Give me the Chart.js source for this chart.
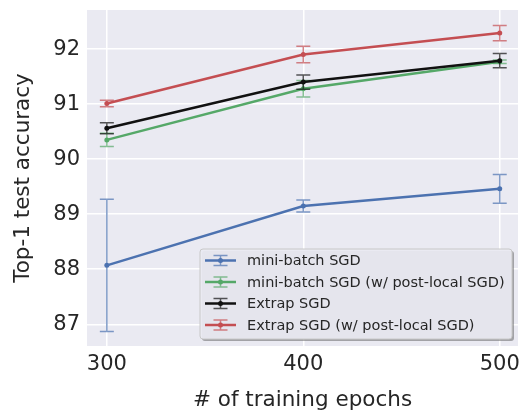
<!DOCTYPE html>
<html><head><meta charset="utf-8">
<script src="https://cdn.jsdelivr.net/npm/chart.js@4/dist/chart.umd.min.js"></script>
<style>html,body{margin:0;padding:0;background:#fff}</style>
</head><body>
<canvas id="c" width="522" height="413"></canvas>
<script>
const epochs=[300,400,500];
const xTicks=[300,400,500];
const yTicks=[87,88,89,90,91,92];
const names=['mini-batch SGD','mini-batch SGD (w/ post-local SGD)','Extrap SGD','Extrap SGD (w/ post-local SGD)'];
const colors=['#4C72B0','#55A868','#111111','#C44E52'];
const sgd=[88.07,89.15,89.46];
const sgdErr=[1.20,0.11,0.26];
const sgdPost=[90.35,91.28,91.77];
const sgdPostErr=[0.12,0.15,0.03];
const extrap=[90.56,91.40,91.79];
const extrapErr=[0.10,0.13,0.13];
const extrapPost=[91.01,91.90,92.29];
const extrapPostErr=[0.06,0.15,0.14];

const series=[sgd,sgdPost,extrap,extrapPost];
const errs=[sgdErr,sgdPostErr,extrapErr,extrapPostErr];
const FONT='DejaVu Sans';
const TXT='#262626';

function rgba(hex,a){
 const n=parseInt(hex.slice(1),16);
 return 'rgba('+(n>>16)+','+((n>>8)&255)+','+(n&255)+','+a+')';
}

const bgPlugin={
 id:'bg',
 beforeDraw(chart){
  const a=chart.chartArea,ctx=chart.ctx;
  ctx.save();
  ctx.fillStyle='#EAEAF2';
  ctx.fillRect(a.left,a.top,a.right-a.left,a.bottom-a.top);
  ctx.restore();
 }
};

// error bars, drawn with each dataset so layering follows plot order
const errPlugin={
 id:'errbars',
 afterDatasetDraw(chart,args){
  const i=args.index,ctx=chart.ctx;
  const xs=chart.scales.x,ys=chart.scales.y;
  ctx.save();
  ctx.strokeStyle=rgba(colors[i],0.7);
  ctx.lineWidth=1.5;
  series[i].forEach((v,j)=>{
   const x=xs.getPixelForValue(epochs[j]);
   const t=ys.getPixelForValue(v+errs[i][j]);
   const b=ys.getPixelForValue(v-errs[i][j]);
   ctx.beginPath();
   ctx.moveTo(x,t);ctx.lineTo(x,b);
   ctx.moveTo(x-7,t);ctx.lineTo(x+7,t);
   ctx.moveTo(x-7,b);ctx.lineTo(x+7,b);
   ctx.stroke();
  });
  ctx.restore();
 }
};

function roundRect(ctx,x,y,w,h,r){
 ctx.beginPath();
 ctx.moveTo(x+r,y);ctx.lineTo(x+w-r,y);ctx.quadraticCurveTo(x+w,y,x+w,y+r);
 ctx.lineTo(x+w,y+h-r);ctx.quadraticCurveTo(x+w,y+h,x+w-r,y+h);
 ctx.lineTo(x+r,y+h);ctx.quadraticCurveTo(x,y+h,x,y+h-r);
 ctx.lineTo(x,y+r);ctx.quadraticCurveTo(x,y,x+r,y);
 ctx.closePath();
}

const legendPlugin={
 id:'boxlegend',
 afterDraw(chart){
  const a=chart.chartArea,ctx=chart.ctx;
  const w=312,h=90;
  const L=a.right-6-w,T=a.bottom-7-h;
  ctx.save();
  roundRect(ctx,L+2,T+2,w,h,3);
  ctx.fillStyle='rgba(90,90,90,0.5)';
  ctx.fill();
  roundRect(ctx,L,T,w,h,3);
  ctx.fillStyle='rgba(234,234,242,0.93)';
  ctx.fill();
  ctx.strokeStyle='#c8c8c8';
  ctx.lineWidth=1;
  ctx.stroke();
  ctx.font='14.5px "'+FONT+'"';
  ctx.textBaseline='middle';
  names.forEach((n,i)=>{
   const y=T+11.5+i*21.5;
   const cx=L+20.5;
   ctx.strokeStyle=rgba(colors[i],0.7);
   ctx.lineWidth=1.5;
   ctx.beginPath();
   ctx.moveTo(cx,y-5);ctx.lineTo(cx,y+5);
   ctx.moveTo(cx-7,y-5);ctx.lineTo(cx+7,y-5);
   ctx.moveTo(cx-7,y+5);ctx.lineTo(cx+7,y+5);
   ctx.stroke();
   ctx.strokeStyle=colors[i];
   ctx.lineWidth=2.5;
   ctx.beginPath();ctx.moveTo(L+5,y);ctx.lineTo(L+36,y);ctx.stroke();
   ctx.fillStyle=colors[i];
   ctx.beginPath();ctx.arc(cx,y,2.5,0,Math.PI*2);ctx.fill();
   ctx.fillStyle=TXT;
   ctx.fillText(n,L+47,y+1);
  });
  ctx.restore();
 }
};

const order=[4,3,2,1];
const datasets=series.map((s,i)=>({
 label:names[i],
 data:s.map((v,j)=>({x:epochs[j],y:v})),
 borderColor:colors[i],
 backgroundColor:colors[i],
 borderWidth:2.5,
 pointRadius:2.5,
 pointBorderWidth:0,
 pointBackgroundColor:colors[i],
 tension:0,
 order:order[i]
}));

new Chart(document.getElementById('c'),{
 type:'line',
 data:{datasets:datasets},
 options:{
  responsive:false,
  animation:false,
  layout:{padding:{top:10,right:0,left:0,bottom:0}},
  plugins:{legend:{display:false},tooltip:{enabled:false}},
  scales:{
   x:{
    type:'linear',min:289.9,max:509.3,
    afterBuildTicks:s=>{s.ticks=xTicks.map(v=>({value:v}));},
    afterFit:s=>{s.height=67;s.paddingLeft=0;s.paddingRight=0;},
    grid:{color:'#ffffff',lineWidth:1.5,drawTicks:false},
    border:{display:false},
    ticks:{color:TXT,font:{family:FONT,size:21},padding:6,maxRotation:0},
    title:{display:true,text:'# of training epochs',color:TXT,font:{family:FONT,size:21.5},padding:{top:0,bottom:0}}
   },
   y:{
    min:86.605,max:92.71,
    afterBuildTicks:s=>{s.ticks=yTicks.map(v=>({value:v}));},
    afterFit:s=>{s.width=87;s.paddingTop=0;s.paddingBottom=0;},
    grid:{color:'#ffffff',lineWidth:1.5,drawTicks:false},
    border:{display:false},
    ticks:{color:TXT,font:{family:FONT,size:21},padding:7},
    title:{display:true,text:'Top-1 test accuracy',color:TXT,font:{family:FONT,size:21.5},padding:{top:10.5,bottom:0}}
   }
  }
 },
 plugins:[bgPlugin,errPlugin,legendPlugin]
});
</script>
</body></html>
